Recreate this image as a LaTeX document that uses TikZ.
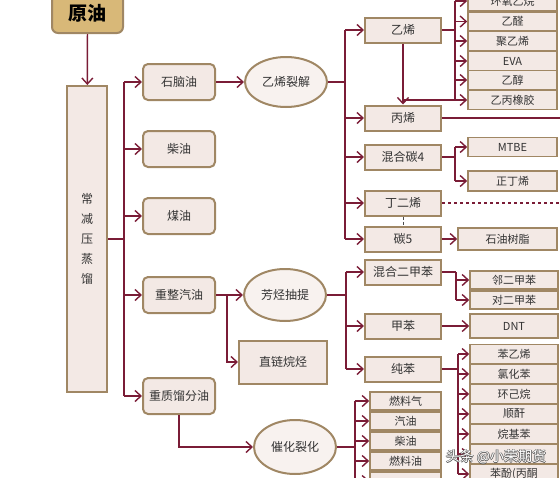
\documentclass[tikz,border=0pt]{standalone}
\usepackage{fontspec}
\usepackage{tikz}
\usetikzlibrary{arrows.meta, shapes.geometric}
\newfontfamily\cjk{Noto Sans CJK SC}
\definecolor{pipe}{HTML}{7A1C36}
\definecolor{rim}{HTML}{A08764}
\definecolor{paper}{HTML}{F3E9E5}
\definecolor{sand}{HTML}{D8B878}

\begin{document}
\begin{tikzpicture}[x=1pt, y=-1pt, >={Straight Barb[length=6pt,width=11pt]},
  font=\cjk\fontsize{11}{13}\selectfont, text=black!80,
  flow/.style={draw=pipe, line width=1.4pt},
  cut/.style={draw=rim, line width=2pt, fill=paper, rounded corners=5pt, minimum width=72pt, minimum height=36pt, inner sep=0pt, font=\cjk\fontsize{12}{14}\selectfont},
  unit/.style={ellipse, draw=rim, line width=2pt, fill=paper!60!white, minimum width=82pt, minimum height=50pt, inner sep=0pt, font=\cjk\fontsize{12}{14}\selectfont},
  mid/.style={draw=rim, line width=2pt, fill=paper, minimum width=76pt, minimum height=25pt, inner sep=0pt, font=\cjk\fontsize{12}{14}\selectfont},
  prod/.style={draw=rim, line width=1.6pt, fill=paper, minimum width=89pt, minimum height=19pt, inner sep=0pt},
  fprod/.style={prod, minimum width=71pt, minimum height=18pt}]
  \useasboundingbox (0,0) rectangle (560,477);
  \clip (0,0) rectangle (560,477);

  % 原油 -> 常减压蒸馏
  \node[draw=rim, line width=2pt, fill=sand, rounded corners=6pt, minimum width=71pt, minimum height=40pt, font=\cjk\fontsize{19}{22}\selectfont\bfseries, text=black] (crude) at (87.5,13) {原油};
  \node[draw=rim, line width=2pt, fill=paper, minimum width=40pt, minimum height=306pt, align=center, font=\cjk\fontsize{12}{20}\selectfont] (dist) at (87,239) {常\\减\\压\\蒸\\馏};
  \draw[->, flow] (crude) -- (dist);

  % 馏分
  \node[cut] (naph) at (179,82) {石脑油};
  \node[cut] (diesel) at (179,149) {柴油};
  \node[cut] (kero) at (179,216) {煤油};
  \node[cut] (reform) at (179,295) {重整汽油};
  \node[cut] (heavy) at (179,396) {重质馏分油};
  \coordinate (bus1) at (124,239);
  \draw[flow] (dist.east) -- (bus1);
  \draw[flow] (bus1 |- naph) -- (bus1 |- heavy);
  \draw[->, flow] (bus1 |- naph) -- (naph);
  \draw[->, flow] (bus1 |- diesel) -- (diesel);
  \draw[->, flow] (bus1 |- kero) -- (kero);
  \draw[->, flow] (bus1 |- reform) -- (reform);
  \draw[->, flow] (bus1 |- heavy) -- (heavy);

  % 装置
  \node[unit] (ethcrack) at (286,82) {乙烯裂解};
  \node[unit, minimum height=52pt] (arom) at (285,295) {芳烃抽提};
  \node[unit, minimum height=54pt] (fcc) at (295,447) {催化裂化};
  \node[mid, minimum width=88pt, minimum height=43pt] (npar) at (283,362) {直链烷烃};
  \draw[->, flow] (naph) -- (ethcrack);
  \draw[->, flow] (reform) -- (arom);
  \coordinate (tap) at (227,295);
  \draw[->, flow] (tap) |- (npar);
  \draw[->, flow] (heavy) |- (fcc);

  % 乙烯裂解产品
  \node[mid] (ethylene) at (403,30) {乙烯};
  \node[mid] (propylene) at (403,118) {丙烯};
  \node[mid] (cfour) at (403,157) {混合碳4};
  \node[mid] (butadiene) at (403,203) {丁二烯};
  \node[mid] (cfive) at (403,239) {碳5};
  \coordinate (bus2) at (345,82);
  \draw[flow] (ethcrack) -- (bus2);
  \draw[flow] (bus2 |- ethylene) -- (bus2 |- cfive);
  \draw[->, flow] (bus2 |- ethylene) -- (ethylene);
  \draw[->, flow] (bus2 |- propylene) -- (propylene);
  \draw[->, flow] (bus2 |- cfour) -- (cfour);
  \draw[->, flow] (bus2 |- butadiene) -- (butadiene);
  \draw[->, flow] (bus2 |- cfive) -- (cfive);

  % 乙烯下游
  \node[prod] (eo) at (512.5,1) {环氧乙烷};
  \node[prod] (acet) at (512.5,21.5) {乙醛};
  \node[prod] (pe) at (512.5,41) {聚乙烯};
  \node[prod] (eva) at (512.5,61) {EVA};
  \node[prod] (etoh) at (512.5,80) {乙醇};
  \node[prod] (epr) at (512.5,100) {乙丙橡胶};
  \coordinate (bus3) at (455,30);
  \draw[flow] (ethylene) -- (bus3);
  \draw[flow] (bus3 |- eo) -- (bus3 |- epr);
  \draw[->, flow] (bus3 |- eo) -- (eo);
  \draw[->, flow] (bus3 |- acet) -- (acet);
  \draw[->, flow] (bus3 |- pe) -- (pe);
  \draw[->, flow] (bus3 |- eva) -- (eva);
  \draw[->, flow] (bus3 |- etoh) -- (etoh);
  \draw[->, flow] (bus3 |- epr) -- (epr);
  \draw[->, flow] (ethylene) -- (propylene);
  \draw[flow] (ethylene |- epr) -- (bus3 |- epr);

  % 丙烯、碳4、丁二烯、碳5
  \coordinate (c3out) at (580,118);
  \draw[->, flow] (propylene) -- (c3out);
  \node[prod, minimum height=19pt] (mtbe) at (512.5,147) {MTBE};
  \node[prod, minimum height=20pt] (butene) at (512.5,181) {正丁烯};
  \coordinate (bus4) at (455,157);
  \draw[flow] (cfour) -- (bus4);
  \draw[flow] (bus4 |- mtbe) -- (bus4 |- butene);
  \draw[->, flow] (bus4 |- mtbe) -- (mtbe);
  \draw[->, flow] (bus4 |- butene) -- (butene);
  \coordinate (c4out) at (580,203);
  \draw[flow, dashed] (butadiene) -- (c4out);
  \draw[black!70, densely dashed, line width=0.8pt] (butadiene) -- (cfive);
  \node[prod, minimum width=99pt, minimum height=22pt] (resin) at (507.5,239) {石油树脂};
  \draw[->, flow] (cfive) -- (resin);

  % 芳烃抽提产品
  \node[mid] (xylene) at (403,272) {混合二甲苯};
  \node[mid] (toluene) at (403,326) {甲苯};
  \node[mid] (benzene) at (403,369) {纯苯};
  \coordinate (bus5) at (346,295);
  \draw[flow] (arom) -- (bus5);
  \draw[flow] (bus5 |- xylene) -- (bus5 |- benzene);
  \draw[->, flow] (bus5 |- xylene) -- (xylene);
  \draw[->, flow] (bus5 |- toluene) -- (toluene);
  \draw[->, flow] (bus5 |- benzene) -- (benzene);

  \node[prod, minimum width=88pt, minimum height=18pt] (oxyl) at (514,280) {邻二甲苯};
  \node[prod, minimum width=88pt, minimum height=18pt] (pxyl) at (514,300) {对二甲苯};
  \coordinate (bus6) at (456,272);
  \draw[flow] (xylene) -- (bus6);
  \draw[flow] (bus6) -- (bus6 |- pxyl);
  \draw[->, flow] (bus6 |- oxyl) -- (oxyl);
  \draw[->, flow] (bus6 |- pxyl) -- (pxyl);

  \node[prod, minimum width=88pt, minimum height=24pt] (dnt) at (514,326) {DNT};
  \draw[->, flow] (toluene) -- (dnt);

  % 纯苯下游
  \node[prod, minimum width=88pt] (sty) at (514,354) {苯乙烯};
  \node[prod, minimum width=88pt] (clbz) at (514,374) {氯化苯};
  \node[prod, minimum width=88pt] (chx) at (514,394) {环己烷};
  \node[prod, minimum width=88pt] (ma) at (514,414) {顺酐};
  \node[prod, minimum width=88pt] (alkbz) at (514,434) {烷基苯};
  \node[prod, minimum width=88pt] (hidden) at (514,454) {};
  \node[prod, minimum width=88pt] (phenol) at (514,474) {苯酚(丙酮};
  \coordinate (bus7) at (458,369);
  \draw[flow] (benzene) -- (bus7);
  \draw[flow] (bus7 |- sty) -- (bus7 |- phenol);
  \draw[->, flow] (bus7 |- sty) -- (sty);
  \draw[->, flow] (bus7 |- clbz) -- (clbz);
  \draw[->, flow] (bus7 |- chx) -- (chx);
  \draw[->, flow] (bus7 |- ma) -- (ma);
  \draw[->, flow] (bus7 |- alkbz) -- (alkbz);
  \draw[->, flow] (bus7 |- hidden) -- (hidden);
  \draw[->, flow] (bus7 |- phenol) -- (phenol);

  % 催化裂化产品
  \node[fprod] (fgas) at (405.5,401) {燃料气};
  \node[fprod] (gasoline) at (405.5,421) {汽油};
  \node[fprod] (fdiesel) at (405.5,441) {柴油};
  \node[fprod] (fuel) at (405.5,461) {燃料油};
  \node[fprod] (flast) at (405.5,481) {};
  \coordinate (bus8) at (355,447);
  \draw[flow] (fcc) -- (bus8);
  \draw[flow] (bus8 |- fgas) -- (bus8 |- flast);
  \draw[->, flow] (bus8 |- fgas) -- (fgas);
  \draw[->, flow] (bus8 |- gasoline) -- (gasoline);
  \draw[->, flow] (bus8 |- fdiesel) -- (fdiesel);
  \draw[->, flow] (bus8 |- fuel) -- (fuel);
  \draw[->, flow] (bus8 |- flast) -- (flast);

  % 水印
  \foreach \dx/\dy [count=\k] in {-0.7/0, 0.7/0, 0/-0.7, 0/0.7}
    \node[font=\cjk\fontsize{14}{14}\selectfont, text=black!65] (shade\k) at (496+\dx,457+\dy) {头条 @小荣期货};
  \node[font=\cjk\fontsize{14}{14}\selectfont, text=white] (mark) at (496,457) {头条 @小荣期货};
\end{tikzpicture}
\end{document}
